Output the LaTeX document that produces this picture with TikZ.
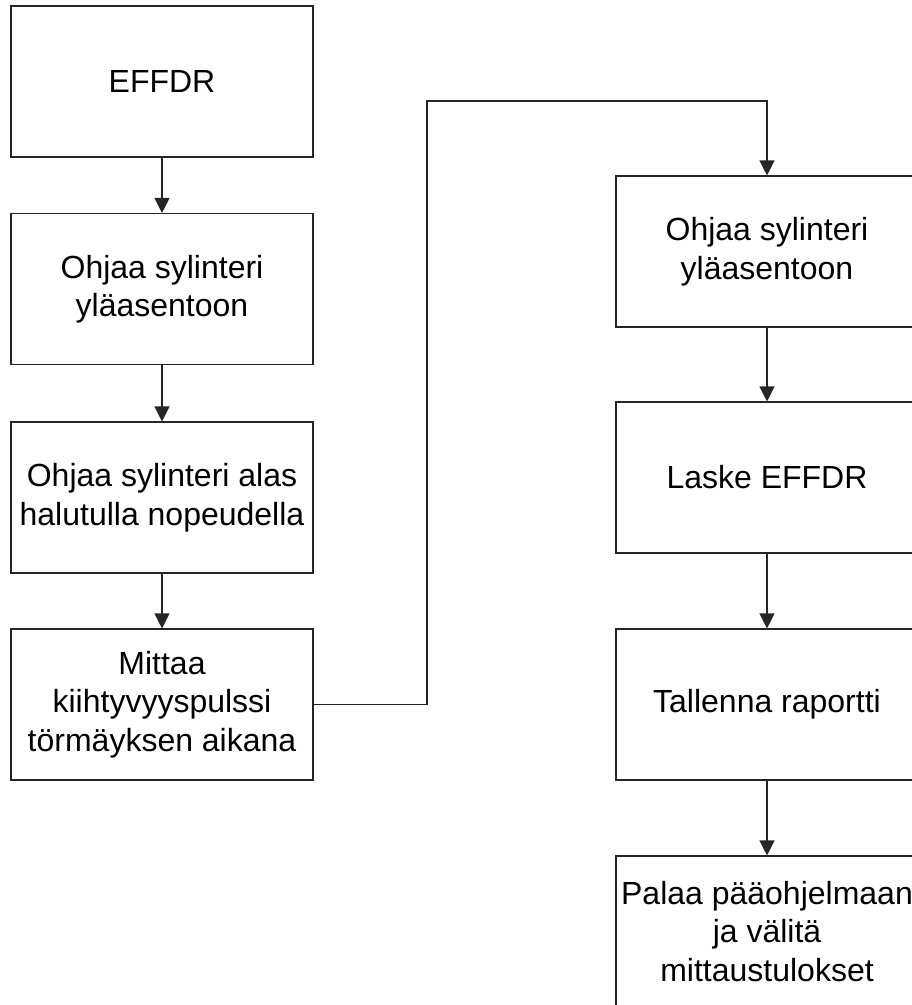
\documentclass[tikz,border=0pt]{standalone}
\usepackage{fontspec}
\setmainfont{Liberation Sans}
\usetikzlibrary{arrows.meta}
\begin{document}
\begin{tikzpicture}[x=1pt,y=-1pt,
  stepbox/.style={draw=black!85, line width=1.1pt, fill=white,
    minimum width=302pt, minimum height=151pt, inner sep=0pt,
    align=center, font=\fontsize{32}{38.5}\selectfont},
  flow/.style={draw=black!85, line width=1.1pt,
    -{Triangle[length=15pt,width=15pt]}}]
\useasboundingbox (0,0) rectangle (912,1005);
\clip (0,0) rectangle (912,1005);
\fill[white] (0,0) rectangle (912,1005);

% left column
\node[stepbox] (a1) at (162,81.5)  {EFFDR};
\node[stepbox] (a2) at (162,289)   {Ohjaa sylinteri\\yläasentoon};
\node[stepbox] (a3) at (162,497.5) {Ohjaa sylinteri alas\\halutulla nopeudella};
\node[stepbox] (a4) at (162,704.5) {Mittaa\\kiihtyvyyspulssi\\törmäyksen aikana};

% right column
\node[stepbox] (b1) at (767,251.5) {Ohjaa sylinteri\\yläasentoon};
\node[stepbox] (b2) at (767,477.5) {Laske EFFDR};
\node[stepbox] (b3) at (767,704.5) {Tallenna raportti};
\node[stepbox] (b4) at (767,931.5) {Palaa pääohjelmaan\\ja välitä\\mittaustulokset};

% connectors
\draw[flow] (a1) -- (a2);
\draw[flow] (a2) -- (a3);
\draw[flow] (a3) -- (a4);
\coordinate (r1) at (427,704.5);
\coordinate (r2) at (427,101);
\coordinate (r3) at (767,101);
\draw[flow] (a4.east) -- (r1) -- (r2) -- (r3) -- (b1.north);
\draw[flow] (b1) -- (b2);
\draw[flow] (b2) -- (b3);
\draw[flow] (b3) -- (b4);
\end{tikzpicture}
\end{document}
